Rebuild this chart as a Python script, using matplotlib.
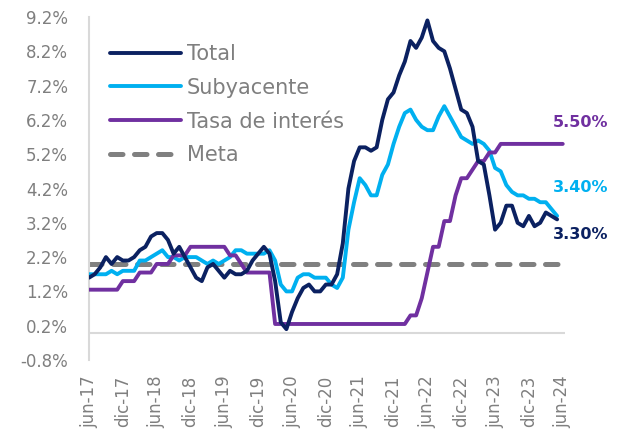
import matplotlib
matplotlib.use("Agg")
import matplotlib.pyplot as plt
import numpy as np

# ---- data (monthly, jun-17 .. ) ----
total = [1.6, 1.7, 1.9, 2.2, 2.0, 2.2, 2.1,
         2.1, 2.2, 2.4, 2.5, 2.8, 2.9, 2.9, 2.7, 2.3, 2.5, 2.2, 1.9,
         1.6, 1.5, 1.9, 2.0, 1.8, 1.6, 1.8, 1.7, 1.7, 1.8, 2.1, 2.3,
         2.5, 2.3, 1.5, 0.3, 0.1, 0.6, 1.0, 1.3, 1.4, 1.2, 1.2, 1.4,
         1.4, 1.7, 2.6, 4.2, 5.0, 5.4, 5.4, 5.3, 5.4, 6.2, 6.8, 7.0,
         7.5, 7.9, 8.5, 8.3, 8.6, 9.1, 8.5, 8.3, 8.2, 7.7, 7.1, 6.5,
         6.4, 6.0, 5.0, 4.9, 4.0, 3.0, 3.2, 3.7, 3.7, 3.2, 3.1, 3.4,
         3.1, 3.2, 3.5, 3.4, 3.3]
subyacente = [1.7, 1.7, 1.7, 1.7, 1.8, 1.7, 1.8,
              1.8, 1.8, 2.1, 2.1, 2.2, 2.3, 2.4, 2.2, 2.2, 2.1, 2.2, 2.2,
              2.2, 2.1, 2.0, 2.1, 2.0, 2.1, 2.2, 2.4, 2.4, 2.3, 2.3, 2.3,
              2.3, 2.4, 2.1, 1.4, 1.2, 1.2, 1.6, 1.7, 1.7, 1.6, 1.6, 1.6,
              1.4, 1.3, 1.6, 3.0, 3.8, 4.5, 4.3, 4.0, 4.0, 4.6, 4.9, 5.5,
              6.0, 6.4, 6.5, 6.2, 6.0, 5.9, 5.9, 6.3, 6.6, 6.3, 6.0, 5.7,
              5.6, 5.5, 5.6, 5.5, 5.3, 4.8, 4.7, 4.3, 4.1, 4.0, 4.0, 3.9,
              3.9, 3.8, 3.8, 3.6, 3.4]
tasa = ([1.25] * 6 + [1.5] * 3 + [1.75] * 3 + [2.0] * 3 + [2.25] * 3 +
        [2.5] * 7 + [2.25] * 2 + [2.0] * 1 + [1.75] * 5 + [0.25] * 24 +
        [0.5] * 2 + [1.0] + [1.75] + [2.5] * 2 + [3.25] * 2 + [4.0] +
        [4.5] * 2 + [4.75] + [5.0] * 2 + [5.25] * 2 + [5.5] * 12)
meta_value = 2.0
tick_labels = ["jun-17", "dic-17", "jun-18", "dic-18", "jun-19", "dic-19",
               "jun-20", "dic-20", "jun-21", "dic-21", "jun-22", "dic-22",
               "jun-23", "dic-23", "jun-24"]
y_ticks = [-0.8, 0.2, 1.2, 2.2, 3.2, 4.2, 5.2, 6.2, 7.2, 8.2, 9.2]
end_labels = ["5.50%", "3.40%", "3.30%"]

# ---- style ----
C_TOTAL = "#0B2161"
C_SUB = "#00B0F0"
C_TASA = "#7030A0"
C_META = "#808080"
C_TXT = "#7F7F7F"
C_AXIS = "#D9D9D9"
plt.rcParams["font.family"] = ["DejaVu Sans"]

W, H = 623, 438
fig = plt.figure(figsize=(W / 100, H / 100), dpi=100)
ax = fig.add_axes([89 / W, 78 / H, (565 - 89) / W, (360 - 17) / H])

n_months = len(tick_labels) * 6 - 6  # 84
x_all = np.arange(n_months + 1)

ax.axhline(0, color=C_AXIS, lw=1.5, zorder=1)

lw = 2.8
ax.plot(np.arange(len(total)), total, color=C_TOTAL, lw=lw, label="Total",
        solid_capstyle="round", solid_joinstyle="round", zorder=4)
ax.plot(np.arange(len(subyacente)), subyacente, color=C_SUB, lw=lw, label="Subyacente",
        solid_capstyle="round", solid_joinstyle="round", zorder=3)
ax.plot(np.arange(len(tasa)), tasa, color=C_TASA, lw=lw, label="Tasa de interés",
        solid_capstyle="round", solid_joinstyle="round", zorder=3)
meta_line, = ax.plot(x_all, [meta_value] * len(x_all), color=C_META, lw=3.6,
                     label="Meta", dash_capstyle="round", zorder=2)
meta_line.set_dashes((2.5, 2.3))

ax.set_xlim(0, 84.4)
ax.set_ylim(-0.8, 9.2)
ax.set_yticks(y_ticks)
ax.set_yticklabels([f"{v:.1f}%" for v in y_ticks])
ax.set_xticks(np.arange(0, n_months + 1, 6))
ax.set_xticklabels(tick_labels, rotation=90)
ax.tick_params(axis="y", length=0, pad=15, labelsize=12, labelcolor=C_TXT)
ax.tick_params(axis="x", length=0, pad=11, labelsize=12, labelcolor=C_TXT)

for s in ["top", "right", "bottom"]:
    ax.spines[s].set_visible(False)
ax.spines["left"].set_color(C_AXIS)
ax.spines["left"].set_linewidth(1.5)
for lbl in ax.get_yticklabels() + ax.get_xticklabels():
    lbl.set_clip_on(False)

# end labels
lx = 82.2
lab_fs = 11.5
ax.text(lx, 6.13, end_labels[0], color=C_TASA, fontsize=lab_fs, fontweight="bold",
        ha="left", va="center", clip_on=False)
ax.text(lx, 4.23, end_labels[1], color=C_SUB, fontsize=lab_fs, fontweight="bold",
        ha="left", va="center", clip_on=False)
ax.text(lx, 2.86, end_labels[2], color=C_TOTAL, fontsize=lab_fs, fontweight="bold",
        ha="left", va="center", clip_on=False)

leg = ax.legend(loc="upper left", bbox_to_anchor=(110 / W, 1 - 44 / H),
                bbox_transform=fig.transFigure, frameon=False, fontsize=15,
                handlelength=3.4, handletextpad=0.3, labelspacing=0.66,
                borderpad=0, borderaxespad=0)
for t in leg.get_texts():
    t.set_color(C_TXT)

fig.savefig("out.png", dpi=100)
